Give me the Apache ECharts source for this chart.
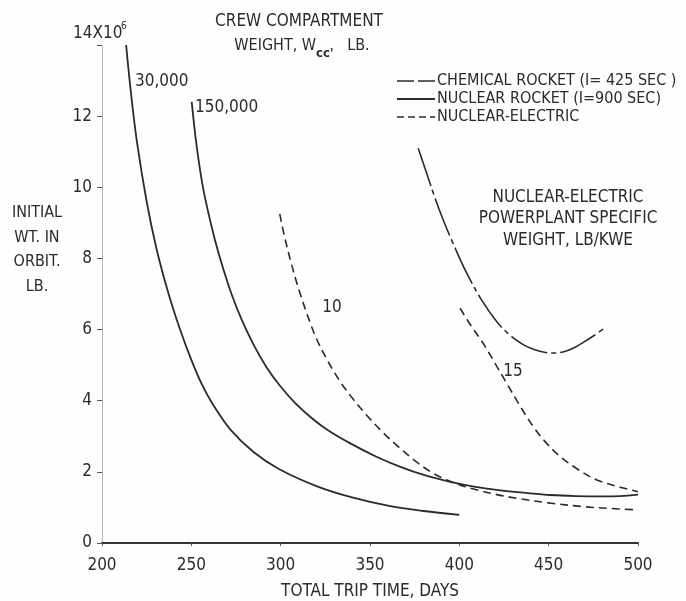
<!DOCTYPE html>
<html><head><meta charset="utf-8">
<script src="https://cdn.jsdelivr.net/npm/echarts@6/dist/echarts.min.js"></script>
<style>html,body{margin:0;padding:0;background:#fefefe}#c{width:686px;height:601px}</style>
</head><body><div id="c"></div>
<script>
// ---- data ----
const xTicks = [200, 250, 300, 350, 400, 450, 500];
const yTicks = [0, 2, 4, 6, 8, 10, 12, 14];

const nuc30Days = [213.5, 216, 219.5, 225, 230.6, 237, 243.7, 250, 256, 262, 272, 285, 299, 320, 340, 360, 380, 400];
const nuc30Wt   = [14.0, 12.75, 11.3, 9.6, 8.25, 7.05, 6.0, 5.15, 4.45, 3.9, 3.18, 2.55, 2.08, 1.6, 1.28, 1.05, 0.9, 0.79];

const nuc150Days = [250.2, 253, 256.7, 262.3, 267, 272.5, 278, 284.6, 292, 299.6, 308, 317, 326.5, 339, 353, 367, 381, 395, 409, 423, 437, 451, 465, 480, 490, 500];
const nuc150Wt   = [12.4, 11.15, 9.95, 8.7, 7.85, 7.0, 6.3, 5.6, 4.95, 4.42, 3.94, 3.53, 3.17, 2.8, 2.44, 2.14, 1.9, 1.72, 1.58, 1.48, 1.41, 1.35, 1.32, 1.31, 1.32, 1.36];

const ne10Days = [299.5, 302, 306, 310, 315, 320, 326, 333, 340, 348, 357, 366, 376, 385, 393, 401, 410, 421, 432, 451, 470, 485, 500];
const ne10Wt   = [9.25, 8.65, 7.85, 7.15, 6.4, 5.75, 5.15, 4.56, 4.08, 3.6, 3.12, 2.7, 2.28, 1.97, 1.77, 1.62, 1.49, 1.36, 1.26, 1.12, 1.02, 0.97, 0.93];

const ne15Days = [400.4, 406, 413.5, 420, 427, 434, 441, 448, 456, 466, 477, 490, 500];
const ne15Wt   = [6.6, 6.15, 5.6, 5.05, 4.45, 3.85, 3.3, 2.85, 2.45, 2.08, 1.77, 1.57, 1.44];

const chemDays = [377, 381, 386.4, 391, 396.7, 404, 412.6, 421, 428, 436, 442, 447, 452, 458, 464, 469.4, 475, 481.6];
const chemWt   = [11.1, 10.5, 9.7, 9.08, 8.4, 7.6, 6.82, 6.22, 5.86, 5.57, 5.44, 5.37, 5.34, 5.37, 5.48, 5.64, 5.82, 6.05];

const legendNames = ['CHEMICAL ROCKET (I= 425 SEC )', 'NUCLEAR ROCKET (I=900 SEC)', 'NUCLEAR-ELECTRIC'];

// ---- chart ----
const FONT = "'Liberation Sans Narrow','DejaVu Sans Condensed','Arial Narrow',sans-serif";
const INK = '#2b2b2b';
const zip = (a, b) => a.map((v, i) => [v, b[i]]);

const chart = echarts.init(document.getElementById('c'), null, {renderer: 'canvas'});
const lineBase = {type: 'line', showSymbol: false, symbol: 'none', smooth: 0.35, silent: true, z: 3,
  itemStyle: {color: INK, opacity: 0}};

const chemDash = [40, 4, 5, 4];
const neDash = [8, 5];

chart.setOption({
  backgroundColor: '#fefefe',
  animation: false,
  grid: {left: 102, right: 48, top: 45, bottom: 58, outerBoundsMode: 'none', containLabel: false},
  xAxis: {
    type: 'value', min: 200, max: 500, interval: 50,
    name: 'TOTAL TRIP TIME, DAYS', nameLocation: 'middle', nameGap: 40,
    nameTextStyle: {fontFamily: FONT, fontSize: 17, color: INK},
    axisLine: {show: true, lineStyle: {color: '#333', width: 2}},
    axisTick: {show: true, length: 3, lineStyle: {color: '#555'}},
    axisLabel: {fontFamily: FONT, fontSize: 17, color: INK, margin: 14},
    splitLine: {show: false}
  },
  yAxis: {
    type: 'value', min: 0, max: 14, interval: 2,
    axisLine: {show: true, lineStyle: {color: '#aaa', width: 1, type: 'dotted'}},
    axisTick: {show: true, length: 5, lineStyle: {color: '#555'}},
    axisLabel: {fontFamily: FONT, fontSize: 17, color: INK, margin: 10,
      formatter: v => (v === 14 ? '' : String(v))},
    splitLine: {show: false}
  },
  legend: {
    orient: 'vertical', left: 391, top: 68, itemWidth: 38, itemHeight: 14, itemGap: 2,
    data: [
      {name: legendNames[0], lineStyle: {type: [17, 4], width: 1.6}},
      {name: legendNames[1]},
      {name: legendNames[2], lineStyle: {type: [7, 4], width: 1.6}}
    ],
    itemStyle: {opacity: 0},
    textStyle: {fontFamily: FONT, fontSize: 16, color: INK, padding: [0, 0, 0, -3]},
    selectedMode: false
  },
  series: [
    Object.assign({}, lineBase, {name: legendNames[0], data: zip(chemDays, chemWt),
      lineStyle: {color: INK, width: 1.6, type: chemDash}}),
    Object.assign({}, lineBase, {name: legendNames[1], data: zip(nuc30Days, nuc30Wt),
      lineStyle: {color: INK, width: 1.8, type: 'solid'}}),
    Object.assign({}, lineBase, {name: legendNames[1], data: zip(nuc150Days, nuc150Wt),
      lineStyle: {color: INK, width: 1.8, type: 'solid'}}),
    Object.assign({}, lineBase, {name: legendNames[2], data: zip(ne10Days, ne10Wt),
      lineStyle: {color: INK, width: 1.6, type: neDash}}),
    Object.assign({}, lineBase, {name: legendNames[2], data: zip(ne15Days, ne15Wt),
      lineStyle: {color: INK, width: 1.6, type: neDash}})
  ],
  graphic: [
    {type: 'text', left: 73, top: 25, style: {text: '14X10', font: `17px ${FONT}`, fill: INK}},
    {type: 'text', left: 121, top: 21, style: {text: '6', font: `10px ${FONT}`, fill: INK}},
    {type: 'text', x: 299, y: 22, style: {text: 'CREW COMPARTMENT', font: `17px ${FONT}`, fill: INK, align: 'center', verticalAlign: 'middle'}},
    {type: 'text', x: 302, y: 46, style: {
      text: "{a|WEIGHT, W}{b|cc'}{a|   LB.}", align: 'center', verticalAlign: 'middle',
      rich: {
        a: {font: `16px ${FONT}`, fill: INK, color: INK},
        b: {font: `bold 13px ${FONT}`, fill: INK, color: INK, padding: [16, 0, 0, 0]}
      }}},
    {type: 'text', x: 37, y: 201, style: {text: 'INITIAL\nWT. IN\nORBIT.\nLB.', font: `16px ${FONT}`, lineHeight: 24.5, fill: INK, align: 'center', verticalAlign: 'top'}},
    {type: 'text', x: 135, y: 82, style: {text: '30,000', font: `17px ${FONT}`, fill: INK, align: 'left', verticalAlign: 'middle'}},
    {type: 'text', x: 195, y: 108, style: {text: '150,000', font: `17px ${FONT}`, fill: INK, align: 'left', verticalAlign: 'middle'}},
    {type: 'text', x: 332, y: 308, style: {text: '10', font: `17px ${FONT}`, fill: INK, align: 'center', verticalAlign: 'middle'}},
    {type: 'text', x: 513, y: 372, style: {text: '15', font: `17px ${FONT}`, fill: INK, align: 'center', verticalAlign: 'middle'}},
    {type: 'text', x: 568, y: 219, style: {text: 'NUCLEAR-ELECTRIC\nPOWERPLANT SPECIFIC\nWEIGHT, LB/KWE', font: `17px ${FONT}`, lineHeight: 21.5, fill: INK, align: 'center', verticalAlign: 'middle'}}
  ]
});
</script></body></html>
